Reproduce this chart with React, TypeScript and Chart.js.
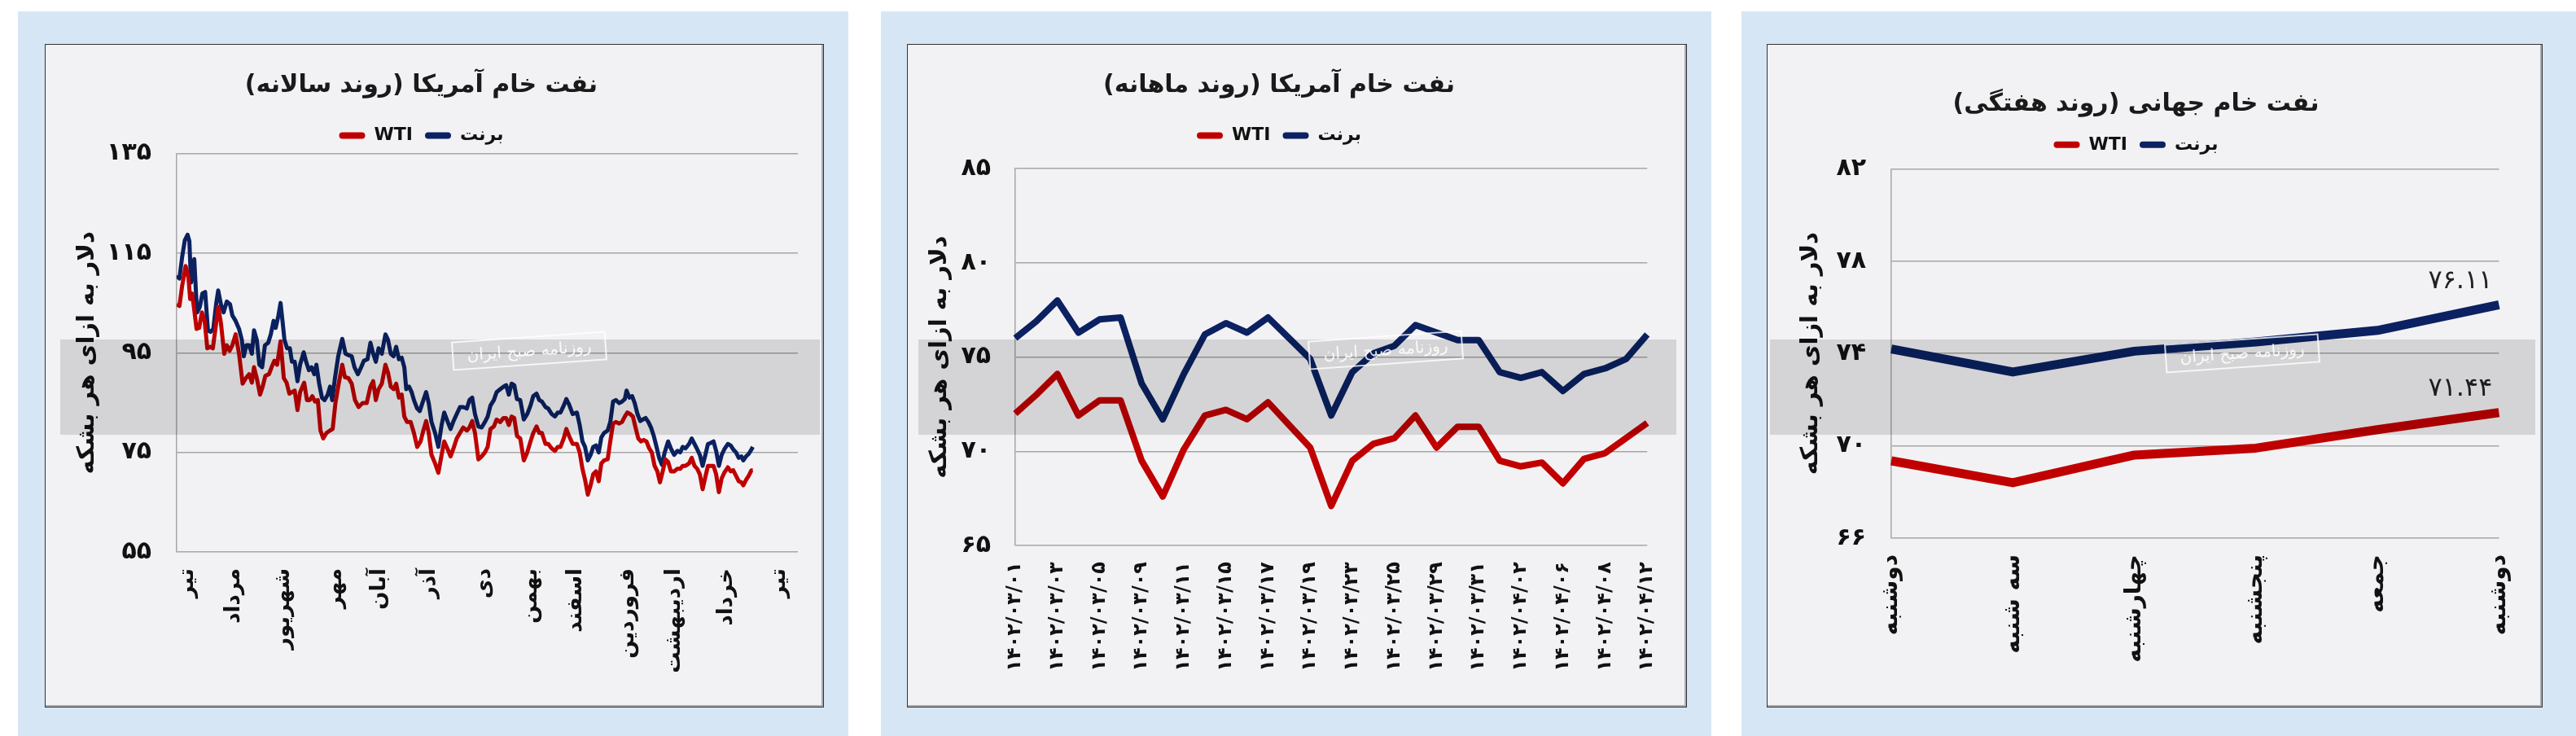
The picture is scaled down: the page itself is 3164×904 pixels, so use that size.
import React, { useEffect, useRef } from 'react';
import { Chart, registerables } from 'chart.js';
Chart.register(...registerables);

const FA_DIGITS = '۰۱۲۳۴۵۶۷۸۹';
const fa = (s: string | number) => String(s).replace(/\d/g, (d) => FA_DIGITS[+d]);

// ---------------- Panel 1: yearly trend (daily points) ----------------
const yearTitle = 'نفت خام آمریکا (روند سالانه)';
const yearMonthLabels = ['تیر', 'مرداد', 'شهریور', 'مهر', 'آبان', 'آذر', 'دی', 'بهمن', 'اسفند', 'فروردین', 'اردیبهشت', 'خرداد', 'تیر'];
const yearMonthTickDay = [6.5, 35, 65.5, 97.5, 124.5, 155, 189, 217.5, 245, 277, 305.5, 337.5, 370];

const brentYearDay = [
  0, 1.7, 3.3, 5, 6.7, 7.8, 8.8, 10.8, 12.5, 14.2, 15.8, 17.5, 19.2, 20.8, 22.5, 24.2, 25.5, 27.2, 28.8, 30.8,
  32.8, 34.2, 36.2, 38.3, 40, 41.2, 42.8, 44.5, 46.2, 47.5, 49.2, 50.8, 52.5, 54.2, 56.2, 57.8, 59.5, 60.8, 62.5, 63.8,
  65, 66.2, 67.8, 69.5, 70.8, 72.5, 74.2, 75.8, 78, 79.5, 81.2, 82.8, 84.5, 85.8, 87.5, 89.2, 90.8, 92.8, 94.2, 95.5,
  97.2, 99.2, 101.7, 103.7, 105.8, 107.5, 109.2, 111.3, 113.3, 115, 117.2,
  119, 120.7, 122.3, 124, 126, 128.2, 129.8, 131.5, 133.2, 134.8, 136.5, 138.2, 139.8, 141, 142.7, 144.3, 145.7, 147.7, 149.3, 151.5,
  153.2, 154.8, 156.5, 158.7, 160.7, 162.7, 164.3, 166.5, 168.2, 169.8, 172, 174, 176, 178.2, 179.8, 181.5, 183.2, 185.3, 187.3, 189.3,
  191, 192.7, 194.8, 196.5, 198.7, 200.7, 202.3, 204, 205.7, 207.3, 209, 211, 213.2, 215.3, 217.3, 219, 221, 222.7, 224.3, 226.5,
  228.2, 230.3, 232.3, 234, 235.7, 237.7, 239.3, 241, 243.2,
  245.8, 247.5, 249.2, 250.8, 252.5, 254.2, 255.8, 257.5, 259.2, 260.8, 262.5, 264.7, 266.3, 268, 269.7, 271.8, 273.5, 275.2, 276.3, 278,
  279.7, 281.3, 283, 284.7, 286.3, 288, 289.7, 291.3, 293, 294.7, 296.3, 298, 299.7, 301.8, 303.5, 305.5, 307.5, 309.2, 310.8, 312.5,
  314.7, 316.3, 318, 319.7, 321.3, 323, 324.7, 326.3, 328, 329.7, 331.3, 333, 334.7, 336.3, 338.5, 340.2, 341.8, 343.5, 345.2, 346.8,
  348, 349.7, 351.3, 353, 353.8,
];
const brentYearVal = [
  110.5, 109.9, 114.1, 117.6, 118.7, 117.4, 109.1, 113.8, 103.1, 104.2, 106.9, 107.2, 99.5, 99.2, 99.8, 104.7, 107.5, 104.7, 103.1, 105.3,
  104.7, 102.5, 101.4, 99.8, 97.6, 94.3, 96.5, 96.5, 94.8, 99.5, 97.6, 92.6, 92.1, 96.5, 97.0, 98.7, 101.4, 100.0, 102.5, 105.0,
  101.4, 97.6, 95.9, 95.9, 93.2, 93.2, 89.3, 92.6, 95.1, 93.2, 91.5, 92.1, 90.7, 92.6, 88.8, 86.0, 85.5, 86.6, 88.2, 85.5,
  89.9, 94.3, 97.8, 94.8, 94.5, 94.3, 92.1, 90.7, 92.1, 93.4, 93.7,
  97.0, 94.8, 93.2, 95.9, 94.8, 98.7, 97.6, 94.8, 94.3, 96.2, 93.7, 94.0, 92.1, 87.7, 88.2, 87.1, 85.5, 83.8, 83.3, 85.5,
  87.1, 84.9, 81.1, 78.9, 76.1, 80.5, 83.0, 81.1, 79.7, 81.1, 82.7, 84.1, 84.1, 83.8, 85.5, 86.0, 82.7, 80.2, 80.0, 81.1,
  82.2, 84.4, 85.5, 87.1, 87.7, 88.2, 88.5, 86.6, 88.8, 88.5, 85.7, 85.5, 81.6, 82.7, 84.4, 86.3, 86.8, 85.5, 85.2, 84.1,
  83.8, 82.7, 82.2, 83.0, 83.0, 84.4, 85.7, 84.6, 82.7,
  83.0, 80.5, 77.2, 76.1, 73.4, 74.5, 76.1, 76.4, 75.0, 78.0, 78.9, 79.4, 81.1, 85.2, 85.5, 84.9, 85.2, 85.7, 87.4, 86.0,
  86.3, 84.9, 82.7, 81.3, 81.6, 81.9, 81.1, 80.0, 78.3, 76.1, 73.9, 72.5, 75.0, 77.2, 75.8, 74.5, 75.3, 75.0, 76.1, 75.8,
  76.7, 77.8, 76.7, 75.6, 74.5, 72.3, 74.5, 76.7, 76.9, 77.2, 75.3, 72.3, 74.5, 75.6, 76.7, 76.4, 75.6, 75.0, 73.9, 74.2,
  73.4, 74.2, 74.7, 75.6, 76.1,
];
const wtiYearDay = [
  0, 1.7, 3.3, 5.5, 7.2, 8.3, 9.5, 10.8, 12.2, 13.8, 15.5, 17.2, 18.8, 20.5, 22.2, 23.8, 25.5, 27.2, 29.2, 30.8,
  32.5, 34.2, 36.2, 38.3, 40.5, 42.5, 44.5, 46.2, 47.5, 49.2, 51.2, 52.8, 54.5, 56.7, 58.3, 60, 61.7, 63.8, 65.8, 67.5,
  69.2, 70.8, 72.5, 74.2, 75.8, 78.3, 80, 81.7, 83.3, 85, 86.7, 88.3, 90, 92, 94.2, 95.8, 97.5, 99.5, 101.7, 103.3,
  105.5, 107.5, 109.5, 111.7, 114.2, 116.7,
  119, 120.7, 122.3, 124, 126, 128.2, 129.8, 131.5, 133.2, 134.8, 136.5, 138.2, 139.8, 141.5, 143.7, 145.7, 147.7, 149.8, 151.5, 153.2,
  154.8, 156.5, 158.7, 160.7, 162.7, 164.3, 166.5, 168.2, 169.8, 172, 174, 176, 178.2, 179.8, 181.5, 183.2, 185.3, 187.3, 189.3, 191,
  192.7, 194.8, 196.5, 198.7, 200.7, 202.3, 204, 205.7, 207.3, 209, 211, 213.2, 215.3, 217.3, 219, 221, 222.7, 224.3, 226.5, 228.2,
  230.3, 232.3, 234, 235.7, 237.7, 239.3, 241, 243.2,
  245.8, 247.5, 249.2, 250.8, 252.5, 254.2, 255.8, 257.5, 259.2, 260.8, 262.5, 264.7, 266.3, 268, 269.7, 271.8, 273.5, 275.2, 276.8, 278.5,
  280.2, 281.8, 283.5, 285.2, 286.8, 288.5, 290.2, 291.8, 293.5, 295.2, 296.8, 298.5, 300.2, 301.8, 303.5, 305.5, 307.5, 309.2, 310.8, 312.5,
  314.7, 316.3, 318, 319.7, 321.3, 323, 324.7, 326.3, 328, 329.7, 331.3, 333, 334.7, 336.3, 338.5, 340.2, 341.8, 343.5, 345.2, 346.8,
  348, 349.7, 351.3, 353, 353.8,
];
const wtiYearVal = [
  104.7, 104.4, 108.3, 112.4, 110.2, 105.8, 106.9, 103.6, 99.8, 100.0, 103.1, 101.4, 95.9, 96.2, 95.9, 99.8, 104.2, 100.9, 94.8, 96.5,
  95.4, 96.5, 98.7, 94.8, 88.8, 89.9, 90.7, 89.0, 92.1, 89.9, 86.6, 88.2, 90.4, 90.7, 92.1, 93.4, 92.6, 97.3, 89.9, 89.0,
  86.8, 87.1, 87.4, 83.5, 87.1, 89.0, 85.5, 85.5, 86.3, 85.2, 85.5, 79.4, 77.8, 78.9, 79.4, 79.7, 84.9, 88.8, 92.6, 90.1,
  89.9, 88.8, 85.5, 84.1, 84.9, 84.9,
  88.2, 89.3, 85.5, 87.7, 88.8, 92.6, 91.0, 88.2, 87.7, 88.8, 86.0, 86.6, 82.2, 81.1, 81.1, 78.9, 76.1, 77.2, 79.4, 81.3,
  78.9, 74.5, 72.8, 70.9, 74.5, 77.2, 75.6, 74.2, 75.6, 77.8, 78.9, 80.0, 79.4, 80.0, 81.3, 78.9, 73.6, 74.2, 75.0, 76.1,
  79.7, 80.2, 81.6, 81.1, 81.9, 81.9, 80.5, 82.2, 81.9, 78.3, 77.8, 73.4, 75.0, 77.2, 78.9, 80.2, 78.9, 78.9, 76.7, 76.7,
  75.8, 75.3, 76.1, 76.1, 77.8, 79.7, 78.3, 76.7,
  76.7, 75.0, 71.7, 69.5, 66.5, 68.4, 70.6, 71.2, 69.2, 72.8, 73.4, 73.6, 77.2, 80.8, 81.1, 80.8, 81.1, 82.2, 83.0, 82.7,
  82.2, 80.0, 77.8, 77.2, 77.5, 77.2, 75.8, 75.0, 72.3, 71.2, 69.0, 71.2, 73.6, 73.1, 71.2, 71.2, 71.7, 71.7, 72.3, 72.3,
  72.8, 73.9, 72.3, 71.7, 70.6, 67.6, 70.1, 72.3, 72.3, 72.3, 70.6, 67.0, 69.8, 70.9, 72.0, 71.2, 71.4, 70.3, 69.2, 69.0,
  68.4, 69.5, 70.3, 71.4, 71.4,
];

// ---------------- Panel 2: monthly trend ----------------
const monthTitle = 'نفت خام آمریکا (روند ماهانه)';
const monthDates = [
  '1402/03/01', '1402/03/02', '1402/03/03', '1402/03/04', '1402/03/05', '1402/03/08', '1402/03/09', '1402/03/10',
  '1402/03/11', '1402/03/12', '1402/03/15', '1402/03/16', '1402/03/17', '1402/03/18', '1402/03/19', '1402/03/22',
  '1402/03/23', '1402/03/24', '1402/03/25', '1402/03/26', '1402/03/29', '1402/03/30', '1402/03/31', '1402/04/01',
  '1402/04/02', '1402/04/05', '1402/04/06', '1402/04/07', '1402/04/08', '1402/04/09', '1402/04/12',
];
const brentMonth = [76.0, 76.9, 78.0, 76.3, 77.0, 77.1, 73.6, 71.7, 74.1, 76.2, 76.8, 76.3, 77.1, 76.0, 74.9, 71.9,
  74.2, 75.2, 75.6, 76.7, 76.3, 75.9, 75.9, 74.2, 73.9, 74.2, 73.2, 74.1, 74.4, 74.9, 76.2];
const wtiMonth = [72.0, 73.0, 74.1, 71.9, 72.7, 72.7, 69.5, 67.6, 70.1, 71.9, 72.2, 71.7, 72.6, 71.4, 70.2, 67.1,
  69.5, 70.4, 70.7, 71.9, 70.2, 71.3, 71.3, 69.5, 69.2, 69.4, 68.3, 69.6, 69.9, 70.7, 71.5];

// ---------------- Panel 3: weekly trend ----------------
const weekTitle = 'نفت خام جهانی (روند هفتگی)';
const weekDays = ['دوشنبه', 'سه شنبه', 'چهارشنبه', 'پنجشنبه', 'جمعه', 'دوشنبه'];
const brentWeek = [74.2, 73.2, 74.1, 74.5, 75.0, 76.11];
const wtiWeek = [69.35, 68.4, 69.6, 69.9, 70.7, 71.44];

const legendWti = 'WTI';
const legendBrent = 'برنت';
const yAxisTitle = 'دلار به ازای هر بشکه';

const RED = '#c00000';
const NAVY = '#0b2161';
const FONT = '"DejaVu Sans"';

Chart.defaults.font.family = FONT;

const watermarkPlugin = {
  id: 'watermark',
  afterDraw(chart: any, _args: any, opts: any) {
    const { ctx } = chart;
    ctx.save();
    ctx.fillStyle = 'rgba(0,0,0,0.12)';
    ctx.fillRect(opts.bx, opts.by, opts.bw, opts.bh);
    ctx.translate(opts.sx, opts.sy);
    ctx.rotate((-4 * Math.PI) / 180);
    ctx.strokeStyle = 'rgba(255,255,255,0.8)';
    ctx.lineWidth = 2;
    ctx.strokeRect(-94, -17, 188, 34);
    ctx.fillStyle = 'rgba(255,255,255,0.85)';
    ctx.font = `20px ${FONT}`;
    ctx.textAlign = 'center';
    ctx.textBaseline = 'middle';
    ctx.fillText('روزنامه صبح ایران', 0, 1);
    ctx.restore();
  },
};

const lastLabelPlugin = {
  id: 'lastLabel',
  afterDatasetsDraw(chart: any, _args: any, opts: any) {
    if (!opts || !opts.show) return;
    const { ctx } = chart;
    ctx.save();
    ctx.font = `32px ${FONT}`;
    ctx.fillStyle = '#222';
    ctx.textAlign = 'right';
    ctx.textBaseline = 'middle';
    chart.data.datasets.forEach((ds: any, i: number) => {
      const meta = chart.getDatasetMeta(i);
      const pt = meta.data[meta.data.length - 1];
      const v = ds.data[ds.data.length - 1];
      ctx.fillText(fa(Number(v).toFixed(2)), pt.x - 8, pt.y - 29);
    });
    ctx.restore();
  },
};

type Spec = {
  left: number; top: number; width: number; height: number;
  title: string; titleTop: number; titleBottom: number; spacer: number;
  yWidth: number; xHeight: number; padRight: number;
  yMin: number; yMax: number; yStep: number; yTickPad: number; yTitlePad: number;
  xTickPad: number; xFont: number; lineWidth: number;
  band: { bx: number; by: number; bw: number; bh: number; sx: number; sy: number };
  kind: 'year' | 'month' | 'week';
};

function buildConfig(s: Spec): any {
  let labels: any = undefined;
  let datasets: any[];
  const common = {
    pointRadius: 0, pointHoverRadius: 0, tension: 0, borderJoinStyle: 'round', borderCapStyle: 'butt',
    borderWidth: s.lineWidth, fill: false,
  };
  if (s.kind === 'year') {
    datasets = [
      { ...common, label: legendWti, borderColor: RED, backgroundColor: RED, data: wtiYearDay.map((d, i) => ({ x: d, y: wtiYearVal[i] })) },
      { ...common, label: legendBrent, borderColor: NAVY, backgroundColor: NAVY, data: brentYearDay.map((d, i) => ({ x: d, y: brentYearVal[i] })) },
    ];
  } else if (s.kind === 'month') {
    labels = monthDates.map((d) => fa(d));
    datasets = [
      { ...common, label: legendWti, borderColor: RED, backgroundColor: RED, data: wtiMonth },
      { ...common, label: legendBrent, borderColor: NAVY, backgroundColor: NAVY, data: brentMonth },
    ];
  } else {
    labels = weekDays;
    datasets = [
      { ...common, label: legendWti, borderColor: RED, backgroundColor: RED, data: wtiWeek },
      { ...common, label: legendBrent, borderColor: NAVY, backgroundColor: NAVY, data: brentWeek },
    ];
  }

  const xScale: any = {
    position: 'bottom',
    grid: { display: false, drawTicks: false },
    border: { display: false },
    ticks: {
      autoSkip: false, maxRotation: 90, minRotation: 90, padding: s.xTickPad, color: '#111',
      font: { size: s.xFont, weight: 'bold' },
    },
    afterFit: (sc: any) => { sc.height = s.xHeight; },
  };
  if (s.kind === 'year') {
    xScale.type = 'linear';
    xScale.min = 0;
    xScale.max = 381.5;
    xScale.afterBuildTicks = (sc: any) => { sc.ticks = yearMonthTickDay.map((v) => ({ value: v })); };
    xScale.ticks.callback = (_v: any, i: number) => yearMonthLabels[i];
  } else {
    xScale.type = 'category';
    xScale.offset = false;
    if (s.kind === 'month') xScale.ticks.callback = (_v: any, i: number) => (i % 2 === 0 ? labels[i] : '');
  }

  return {
    type: 'line',
    data: { labels, datasets },
    plugins: [watermarkPlugin, lastLabelPlugin],
    options: {
      responsive: false,
      animation: false,
      devicePixelRatio: 1,
      layout: { padding: { left: 0, right: s.padRight, top: 0, bottom: 0 } },
      plugins: {
        watermark: s.band,
        lastLabel: { show: s.kind === 'week' },
        tooltip: { enabled: false },
        title: {
          display: true, text: s.title, color: '#1a1a1a',
          font: { size: 30, weight: 'bold', lineHeight: 1.2 },
          padding: { top: s.titleTop, bottom: s.titleBottom },
        },
        legend: {
          display: true, position: 'top',
          labels: {
            boxWidth: 32, boxHeight: 8, padding: 15, color: '#111',
            font: { size: 22, weight: 'bold' },
            generateLabels: (chart: any) => chart.data.datasets.map((ds: any, i: number) => ({
              text: ds.label, fillStyle: ds.borderColor, strokeStyle: ds.borderColor, lineWidth: 0,
              hidden: false, datasetIndex: i, borderRadius: 4, fontColor: '#111',
            })),
          },
        },
      },
      scales: {
        x: xScale,
        xSpacer: {
          type: 'linear', position: 'top', display: true,
          grid: { display: false }, border: { display: false }, ticks: { display: false },
          afterFit: (sc: any) => { sc.height = s.spacer; },
        },
        y: {
          min: s.yMin, max: s.yMax,
          grid: { color: '#a6a6a6', lineWidth: 1.5, drawTicks: false },
          border: { display: true, color: '#a6a6a6', width: 1.5 },
          ticks: {
            stepSize: s.yStep, padding: s.yTickPad, color: '#111',
            font: { size: 30, weight: 'bold' },
            callback: (v: any) => fa(v),
          },
          title: {
            display: true, text: yAxisTitle, color: '#111',
            font: { size: 29, weight: 'bold', lineHeight: 1.2 },
            padding: { top: s.yTitlePad, bottom: 0 },
          },
          afterFit: (sc: any) => { sc.width = s.yWidth; },
        },
      },
    },
  };
}

const specs: Spec[] = [
  {
    left: 55, top: 54, width: 957, height: 815, title: yearTitle, titleTop: 33, titleBottom: 17.6, spacer: 1,
    yWidth: 162, xHeight: 191, padRight: 32, yMin: 55, yMax: 135, yStep: 20, yTickPad: 31, yTitlePad: 35,
    xTickPad: 20, xFont: 26, lineWidth: 5,
    band: { bx: 19, by: 363, bw: 933, bh: 117, sx: 595, sy: 377 }, kind: 'year',
  },
  {
    left: 1114, top: 54, width: 958, height: 815, title: monthTitle, titleTop: 33, titleBottom: 17.6, spacer: 19.6,
    yWidth: 133, xHeight: 199, padRight: 44, yMin: 65, yMax: 85, yStep: 5, yTickPad: 30, yTitlePad: 23,
    xTickPad: 20, xFont: 24, lineWidth: 8,
    band: { bx: 14, by: 363, bw: 931, bh: 117, sx: 588, sy: 376 }, kind: 'month',
  },
  {
    left: 2170, top: 54, width: 953, height: 815, title: weekTitle, titleTop: 56, titleBottom: 5.8, spacer: 8.6,
    yWidth: 153, xHeight: 208, padRight: 46, yMin: 66, yMax: 82, yStep: 4, yTickPad: 31, yTitlePad: 37,
    xTickPad: 20, xFont: 28, lineWidth: 11,
    band: { bx: 4, by: 363, bw: 940, bh: 117, sx: 584, sy: 380 }, kind: 'week',
  },
];

function Panel({ spec }: { spec: Spec }) {
  const ref = useRef<HTMLCanvasElement>(null);
  useEffect(() => {
    const chart = new Chart(ref.current as HTMLCanvasElement, buildConfig(spec));
    return () => chart.destroy();
  }, [spec]);
  return (
    <>
      <div style={{
        position: 'absolute', left: spec.left, top: spec.top, width: spec.width, height: spec.height,
        boxSizing: 'border-box', background: '#f2f2f4', border: '1px solid #333',
        boxShadow: 'inset -2px -2px 0 #a9abae',
      }} />
      <canvas ref={ref} width={spec.width} height={spec.height} style={{
        position: 'absolute', left: spec.left, top: spec.top, width: spec.width, height: spec.height, direction: 'rtl',
      }} />
    </>
  );
}

const panelBgs = [
  { left: 22, width: 1020 },
  { left: 1082, width: 1020 },
  { left: 2139, width: 1025 },
];

export default function App() {
  return (
    <div style={{ position: 'absolute', left: 0, top: 0, width: 3164, height: 904, background: '#fff', overflow: 'hidden' }}>
      {panelBgs.map((b, i) => (
        <div key={i} style={{ position: 'absolute', left: b.left, top: 14, width: b.width, height: 890, background: '#d6e6f5' }} />
      ))}
      {specs.map((s, i) => <Panel key={i} spec={s} />)}
    </div>
  );
}
